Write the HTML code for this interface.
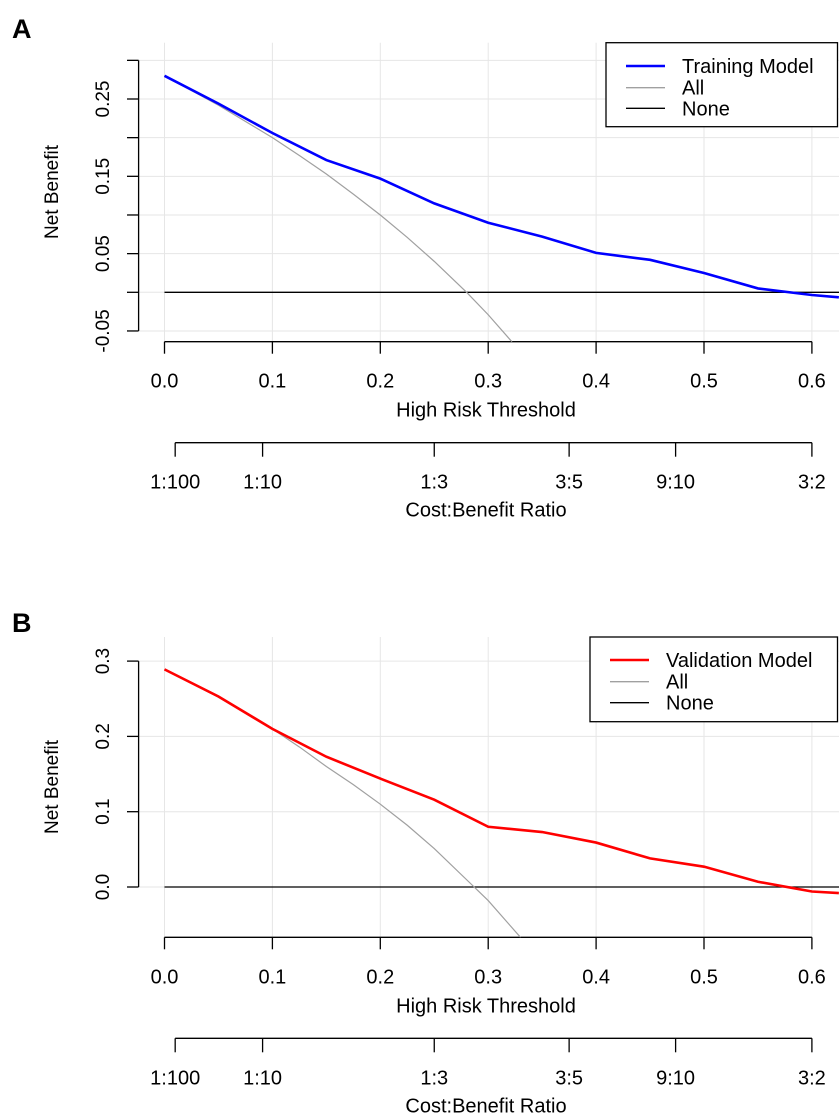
<!DOCTYPE html>
<html><head><meta charset="utf-8"><style>
html,body{margin:0;padding:0;background:#fff}
svg{display:block;font-family:"Liberation Sans",Arial,sans-serif}
</style></head><body>
<svg id="s" width="839" height="1118" viewBox="0 0 839 1118"></svg>
<script>
const thresholds = [0,0.05,0.1,0.15,0.2,0.25,0.3,0.35,0.4,0.45,0.5,0.55,0.6,0.625];
const trainModel = [0.280,0.244,0.206,0.171,0.147,0.115,0.090,0.072,0.051,0.042,0.025,0.005,-0.0035,-0.0065];
const trainAllX = [0,0.05,0.1,0.125,0.15,0.175,0.2,0.225,0.25,0.28,0.3,0.322];
const trainAll = [0.280,0.242,0.200,0.177,0.153,0.127,0.100,0.071,0.040,0.0,-0.029,-0.064];
const validModel = [0.289,0.253,0.210,0.173,0.144,0.116,0.080,0.073,0.059,0.038,0.027,0.007,-0.006,-0.008];
const validAllX = [0,0.05,0.1,0.125,0.15,0.175,0.2,0.225,0.25,0.287,0.3,0.33];
const validAll = [0.289,0.252,0.210,0.186,0.160,0.136,0.110,0.082,0.051,0.0,-0.018,-0.067];
const xTicks = [0,0.1,0.2,0.3,0.4,0.5,0.6];
const xTickLabels = ["0.0","0.1","0.2","0.3","0.4","0.5","0.6"];
const cbLabels = ["1:100","1:10","1:3","3:5","9:10","3:2"];
const cbCost = [1,1,1,3,9,3];
const cbBenefit = [100,10,3,5,10,2];
const yTicksA = [-0.05,0,0.05,0.1,0.15,0.2,0.25,0.3];
const yLabelsA = ["-0.05","","0.05","","0.15","","0.25",""];
const yTicksB = [0,0.1,0.2,0.3];
const yLabelsB = ["0.0","0.1","0.2","0.3"];

const NS="http://www.w3.org/2000/svg";
const svg=document.getElementById('s');
function mk(tag,attrs,parent){const e=document.createElementNS(NS,tag);for(const k in attrs)e.setAttribute(k,attrs[k]);(parent||svg).appendChild(e);return e;}
const xs=v=>164.5+v*1079;

function panel(o){
  const g=mk('g',{});
  
  
  const ys=v=>o.y0-v*o.pxPerUnit;
  const lab=mk('text',{x:12,y:o.letterY,'font-size':27,'font-weight':'bold'},g);lab.textContent=o.letter;
  
  const grid=mk('g',{stroke:'#e6e6e6','stroke-width':1},g);
  
  xTicks.forEach(t=>mk('line',{x1:xs(t),x2:xs(t),y1:o.top,y2:o.bottom},grid));
  o.yTicks.forEach(t=>mk('line',{x1:139,x2:839,y1:ys(t),y2:ys(t)},grid));
  const ya=mk('g',{stroke:'#000','stroke-width':1.3},g);
  
  mk('line',{x1:138.6,x2:138.6,y1:ys(o.yTicks[o.yTicks.length-1]),y2:ys(o.yTicks[0])},ya);
  o.yTicks.forEach((t,i)=>{mk('line',{x1:127,x2:138.6,y1:ys(t),y2:ys(t)},ya);
    if(o.yLabels[i]){const tx=mk('text',{x:0,y:0,'font-size':19,'text-anchor':'middle',stroke:'none',fill:'#000',transform:`translate(109,${ys(t)}) rotate(-90)`},g);tx.textContent=o.yLabels[i];
    }});
  const yt=mk('text',{x:0,y:0,'font-size':19,'text-anchor':'middle',transform:`translate(58,${o.yTitleY}) rotate(-90)`},g);yt.textContent='Net Benefit';
  
  const xa=mk('g',{stroke:'#000','stroke-width':1.3},g);
  
  mk('line',{x1:xs(0),x2:xs(0.6),y1:o.bottom,y2:o.bottom},xa);
  xTicks.forEach((t,i)=>{mk('line',{x1:xs(t),x2:xs(t),y1:o.bottom,y2:o.bottom+12},xa);
    const tx=mk('text',{x:xs(t),y:o.bottom+46,'font-size':20,'text-anchor':'middle'},g);tx.textContent=xTickLabels[i];
    });
  const xt=mk('text',{x:486,y:o.bottom+75,'font-size':20,'text-anchor':'middle'},g);xt.textContent='High Risk Threshold';
  
  const ca=mk('g',{stroke:'#000','stroke-width':1.3},g);
  
  const cy=o.bottom+101;
  const cbx=cbLabels.map((l,i)=>xs(cbCost[i]/(cbCost[i]+cbBenefit[i])));
  mk('line',{x1:cbx[0],x2:cbx[cbx.length-1],y1:cy,y2:cy},ca);
  cbx.forEach((x,i)=>{mk('line',{x1:x,x2:x,y1:cy,y2:cy+14},ca);
    const tx=mk('text',{x:x,y:cy+46,'font-size':20,'text-anchor':'middle'},g);tx.textContent=cbLabels[i];
    });
  const ct=mk('text',{x:486,y:cy+74,'font-size':20,'text-anchor':'middle'},g);ct.textContent='Cost:Benefit Ratio';
  
  const cp=mk('clipPath',{id:'clip'+o.id},g);mk('rect',{x:139,y:o.top,width:700,height:o.bottom-o.top},cp);
  const pg=mk('g',{'clip-path':`url(#clip${o.id})`},g);
  const none=mk('line',{x1:xs(0),x2:839,y1:ys(0),y2:ys(0),stroke:'#000','stroke-width':1.3},pg);
  
  const all=mk('polyline',{points:o.allX.map((t,i)=>xs(t)+','+ys(o.all[i])).join(' '),fill:'none',stroke:'#a0a0a0','stroke-width':1.2},pg);
  
  const m=mk('polyline',{points:thresholds.map((t,i)=>xs(t)+','+ys(o.model[i])).join(' '),fill:'none',stroke:o.color,'stroke-width':2.6},pg);
  
  const lg=mk('g',{},g);
  
  mk('rect',{x:o.lx,y:o.ly,width:837.5-o.lx,height:o.lh,fill:'#fff',stroke:'#000','stroke-width':1.3},lg);
  const items=[[o.name,o.color,2.6],['All','#a0a0a0',1.3],['None','#000',1.3]];
  items.forEach((it,i)=>{const y=o.ey[i];
    mk('line',{x1:o.lx+20,x2:o.lx+59,y1:y,y2:y,stroke:it[1],'stroke-width':it[2]},lg);
    const tx=mk('text',{x:o.lx+76,y:y+7,'font-size':20},lg);tx.textContent=it[0];
    });
}
panel({id:'a',letter:'A',letterY:38,top:42.7,bottom:341.7,y0:292.3,pxPerUnit:773.2,yTicks:yTicksA,yLabels:yLabelsA,yTitleY:192,
  model:trainModel,allX:trainAllX,all:trainAll,color:'#0000ff',name:'Training Model',lx:606,ly:42.7,lh:84,ey:[66,87.7,108.3]});
panel({id:'b',letter:'B',letterY:632,top:637,bottom:937.3,y0:887,pxPerUnit:753,yTicks:yTicksB,yLabels:yLabelsB,yTitleY:787,
  model:validModel,allX:validAllX,all:validAll,color:'#ff0000',name:'Validation Model',lx:590,ly:637,lh:84.7,ey:[660,681.7,702.7]});
</script>
</body></html>
